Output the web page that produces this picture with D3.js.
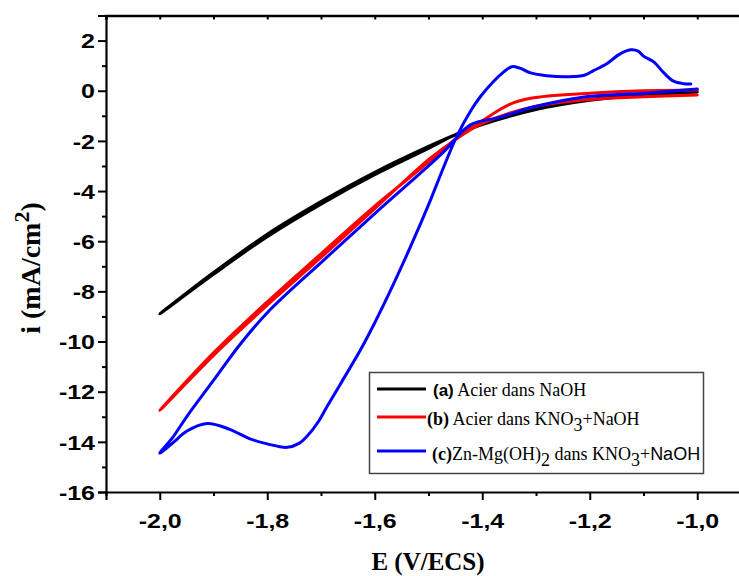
<!DOCTYPE html>
<html>
<head>
<meta charset="utf-8">
<script src="https://cdn.jsdelivr.net/npm/d3@7"></script>
<style>
  body { margin: 0; background: #fff; }
  svg { display: block; }
</style>
</head>
<body>
<div id="chart"></div>
<script>
// (a) Acier dans NaOH : scan -1.0 -> -2.0 -> -1.0
var aE = [-1.0, -1.1, -1.2, -1.3, -1.4, -1.45, -1.5, -1.6, -1.7, -1.8, -1.9, -2.0,
          -1.9, -1.8, -1.7, -1.6, -1.5, -1.45, -1.4, -1.3, -1.2, -1.1, -1.0];
var aI = [-0.05, -0.15, -0.35, -0.7, -1.3, -1.75, -2.3, -3.35, -4.52, -5.82, -7.32, -8.9,
          -7.25, -5.72, -4.42, -3.25, -2.22, -1.75, -1.35, -0.75, -0.38, -0.17, -0.05];

// (b) Acier dans KNO3+NaOH
var bE = [-1.0, -1.1, -1.2, -1.3, -1.4, -1.45, -1.5, -1.6, -1.7, -1.8, -1.9, -2.0,
          -1.9, -1.8, -1.7, -1.6, -1.5, -1.46, -1.4, -1.35, -1.31, -1.2, -1.1, -1.0];
var bI = [-0.17, -0.24, -0.35, -0.62, -1.3, -1.95, -2.75, -4.7, -6.65, -8.55, -10.55, -12.75,
          -10.45, -8.42, -6.5, -4.6, -2.85, -2.1, -1.2, -0.55, -0.3, -0.1, 0.0, 0.03];

// (c) Zn-Mg(OH)2 dans KNO3+NaOH
var cE = [-1.0, -1.05, -1.09, -1.21, -1.305, -1.366, -1.422, -1.47, -1.5, -1.6, -1.7, -1.8, -1.85, -1.9, -1.95, -1.975, -2.0,
          -1.975, -1.95, -1.912, -1.87, -1.832, -1.8, -1.763, -1.74, -1.726, -1.705, -1.689, -1.664, -1.627, -1.6, -1.565,
          -1.53, -1.5, -1.47, -1.447, -1.42, -1.404, -1.38, -1.36, -1.345, -1.33, -1.31, -1.28, -1.24, -1.21, -1.193, -1.167,
          -1.145, -1.124, -1.11, -1.1, -1.081, -1.062, -1.044, -1.025, -1.012];
var cI = [0.07, -0.02, -0.09, -0.25, -0.65, -1.05, -1.36, -2.4, -3.0, -4.9, -6.85, -8.85, -10.1, -11.55, -13.0, -13.8, -14.45,
          -14.03, -13.58, -13.27, -13.5, -13.88, -14.08, -14.22, -14.05, -13.78, -13.2, -12.6, -11.7, -10.35, -9.25, -7.7,
          -6.05, -4.55, -2.95, -1.8, -0.75, -0.25, 0.35, 0.75, 0.96, 0.9, 0.71, 0.6, 0.56, 0.62, 0.8, 1.1,
          1.45, 1.63, 1.58, 1.38, 1.15, 0.71, 0.38, 0.28, 0.27];

var xMajor = [-2.0, -1.8, -1.6, -1.4, -1.2, -1.0];
var xMinor = [-2.1, -1.9, -1.7, -1.5, -1.3, -1.1, -0.9];
var yMajor = [-16, -14, -12, -10, -8, -6, -4, -2, 0, 2];
var yMinor = [-15, -13, -11, -9, -7, -5, -3, -1, 1, 3];

var series = [
  {E: aE, I: aI, color: "#000000"},
  {E: bE, I: bI, color: "#ff0000"},
  {E: cE, I: cI, color: "#0000ff"}
];

var width = 739, height = 576;

var x = d3.scaleLinear().domain([-2.1, -0.9]).range([106, 751]);
var y = d3.scaleLinear().domain([-16, 3]).range([492, 15.5]);

var svg = d3.select("#chart").append("svg")
    .attr("width", width)
    .attr("height", height);

var fmtX = function(d) { return d.toFixed(1).replace(".", ","); };
var fmtY = function(d) { return String(d); };

// curves
var line = d3.line()
    .x(function(d) { return x(d[0]); })
    .y(function(d) { return y(d[1]); })
    .curve(d3.curveCatmullRom.alpha(0.5));

series.forEach(function(s) {
  var pts = s.E.map(function(e, i) { return [e, s.I[i]]; });
  svg.append("path")
      .datum(pts)
      .attr("fill", "none")
      .attr("stroke", s.color)
      .attr("stroke-width", 3)
      .attr("stroke-linejoin", "round")
      .attr("stroke-linecap", "round")
      .attr("d", line);
});

// axes
function styleAxis(g) {
  g.selectAll("path.domain").attr("stroke", "#000").attr("stroke-width", 2.2);
  g.selectAll(".tick line").attr("stroke", "#000").attr("stroke-width", 2);
}

var sx = 1.25;
var sans = "'Liberation Sans', Arial, sans-serif";
var serif = "'Liberation Serif', 'Times New Roman', serif";

var bottomAxis = svg.append("g")
    .attr("transform", "translate(0," + y(-16) + ")")
    .call(d3.axisBottom(x).tickValues(xMajor).tickSize(8).tickFormat(fmtX));
bottomAxis.selectAll(".tick text")
    .attr("y", 0).attr("dy", null)
    .attr("transform", "translate(0,36) scale(" + sx + ",1)")
    .style("font-family", sans)
    .style("font-weight", "bold")
    .style("font-size", "20px")
    .attr("fill", "#000");
styleAxis(bottomAxis);

var bottomMinor = svg.append("g")
    .attr("transform", "translate(0," + y(-16) + ")")
    .call(d3.axisBottom(x).tickValues(xMinor).tickSize(4).tickFormat(""));
bottomMinor.select("path.domain").remove();
styleAxis(bottomMinor);

var leftAxis = svg.append("g")
    .attr("transform", "translate(" + x(-2.1) + ",0)")
    .call(d3.axisLeft(y).tickValues(yMajor).tickSize(8).tickFormat(fmtY));
leftAxis.selectAll(".tick text")
    .attr("x", -11 / sx)
    .attr("dy", "0.36em")
    .attr("transform", "scale(" + sx + ",1)")
    .style("font-family", sans)
    .style("font-weight", "bold")
    .style("font-size", "20px")
    .attr("fill", "#000");
styleAxis(leftAxis);

var leftMinor = svg.append("g")
    .attr("transform", "translate(" + x(-2.1) + ",0)")
    .call(d3.axisLeft(y).tickValues(yMinor).tickSize(4).tickFormat(""));
leftMinor.select("path.domain").remove();
styleAxis(leftMinor);

var topAxis = svg.append("g")
    .attr("transform", "translate(0," + y(3) + ")")
    .call(d3.axisTop(x).tickValues(xMajor.concat(xMinor)).tickSize(-4).tickFormat(""));
styleAxis(topAxis);
topAxis.select("path.domain").attr("stroke-width", 2.6);

var rightAxis = svg.append("g")
    .attr("transform", "translate(" + x(-0.9) + ",0)")
    .call(d3.axisRight(y).tickValues(yMajor).tickSize(-4).tickFormat(""));
styleAxis(rightAxis);

// axis titles
svg.append("text")
    .attr("x", 428)
    .attr("y", 570)
    .attr("text-anchor", "middle")
    .style("font-family", serif)
    .style("font-weight", "bold")
    .style("font-size", "25px")
    .text("E (V/ECS)");

var yTitle = svg.append("text")
    .attr("transform", "translate(40,268) rotate(-90)")
    .attr("text-anchor", "middle")
    .style("font-family", serif)
    .style("font-weight", "bold")
    .style("font-size", "28px");
yTitle.append("tspan").text("i (mA/cm");
yTitle.append("tspan").attr("dy", -11).style("font-size", "22px").text("2");
yTitle.append("tspan").attr("dy", 11).text(")");

// legend
var legend = svg.append("g");
legend.append("rect")
    .attr("x", 369.5).attr("y", 372.5)
    .attr("width", 334).attr("height", 101)
    .attr("fill", "#fff")
    .attr("stroke", "#444")
    .attr("stroke-width", 1.5);

var rows = [
  {ly: 389, ty: 396, tx: 433, color: "#000000",
   parts: [{t: "(a)", w: "bold", f: sans, s: 17}, {t: " Acier dans NaOH"}]},
  {ly: 417, ty: 425, tx: 427, color: "#ff0000",
   parts: [{t: "(b)", w: "bold"}, {t: " Acier dans KNO"}, {t: "3", sub: true}, {t: "+NaOH", up: true}]},
  {ly: 451, ty: 460, tx: 432, color: "#0000ff",
   parts: [{t: "(c)", w: "bold"}, {t: "Zn-Mg(OH)"}, {t: "2", sub: true}, {t: " dans KNO", up: true}, {t: "3", sub: true},
           {t: "+", up: true}, {t: "NaOH", f: sans}]}
];

rows.forEach(function(r) {
  legend.append("line")
      .attr("x1", 377).attr("x2", 426)
      .attr("y1", r.ly).attr("y2", r.ly)
      .attr("stroke", r.color)
      .attr("stroke-width", 3);
  var t = legend.append("text")
      .attr("x", r.tx).attr("y", r.ty)
      .style("font-family", serif)
      .style("font-size", "18px")
      .attr("fill", "#000");
  r.parts.forEach(function(p) {
    var ts = t.append("tspan").text(p.t);
    if (p.w) ts.style("font-weight", p.w);
    if (p.f) ts.style("font-family", p.f);
    if (p.s) ts.style("font-size", p.s + "px");
    if (p.sub) ts.attr("dy", 6);
    if (p.up) ts.attr("dy", -6);
  });
});
</script>
</body>
</html>
